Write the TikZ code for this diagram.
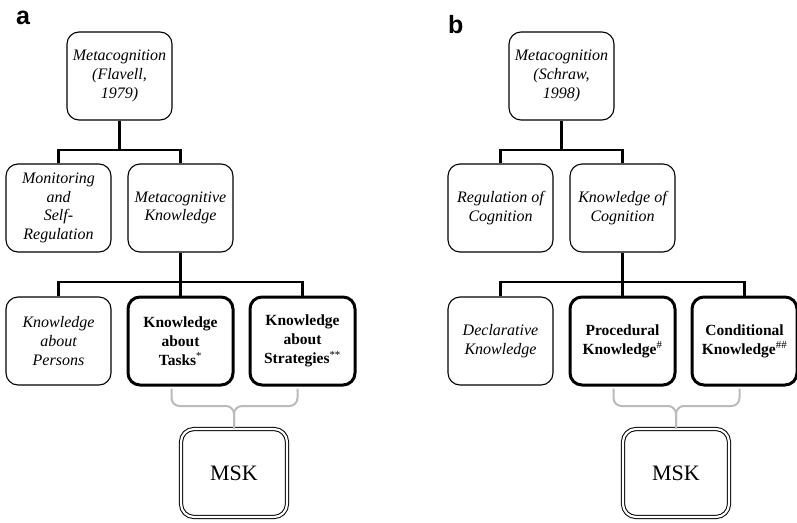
\documentclass[tikz,border=0pt]{standalone}
\usepackage{fontspec}
\setmainfont{Liberation Serif}
\newfontfamily\labelfont{Liberation Sans}
\definecolor{bracegray}{HTML}{BBBBBB}
\begin{document}
\begin{tikzpicture}[x=1pt,y=-1pt,
  box/.style={draw, rounded corners=12pt, line width=1.1pt, minimum width=105pt,
    minimum height=88pt, inner sep=0pt, align=center,
    font=\fontsize{16}{18.8}\selectfont\itshape},
  boldbox/.style={box, line width=3pt, font=\fontsize{15.5}{18.8}\selectfont\bfseries},
  mskbox/.style={draw, double, double distance=2.2pt, line width=1pt, rounded corners=13pt,
    minimum width=106pt, minimum height=88pt, inner sep=0pt,
    font=\fontsize{22}{26}\selectfont},
  conn/.style={line width=2.4pt, black},
  brace/.style={line width=2pt, draw=bracegray, rounded corners=8pt},
  panel/.style={font=\labelfont\bfseries\fontsize{25}{30}\selectfont, anchor=base west, inner sep=0pt}]
\useasboundingbox (0,0) rectangle (797,522);

% ---------- panel a ----------
\node[panel] (la) at (16,24) {a};
\node[box] (atop) at (119.5,76) {Metacognition\\(Flavell,\\1979)};
\node[box] (amon) at (58.5,208) {Monitoring\\and\\Self-\\Regulation};
\node[box] (amk) at (180.5,208) {Metacognitive\\Knowledge};
\node[box] (aper) at (58.5,341) {Knowledge\\about\\Persons};
\node[boldbox] (atask) at (180.5,341) {Knowledge\\about\\Tasks\textsuperscript{\mdseries *}};
\node[boldbox] (astrat) at (302.5,341) {Knowledge\\about\\Strategies\textsuperscript{\mdseries **}};
\node[mskbox] (amsk) at (234,473) {MSK};

\coordinate (aj1) at (119.5,150);
\coordinate (aj2) at (180.5,282);
\draw[conn] (atop.south) -- (aj1);
\draw[conn] (amon.north) |- (aj1) -| (amk.north);
\draw[conn] (amk.south) -- (aj2);
\draw[conn] (aper.north) |- (aj2) -| (astrat.north);
\draw[conn] (aj2) -- (atask.north);

\coordinate (abm) at (234,406);
\draw[brace] ([xshift=-9pt,yshift=-2pt]atask.south) |- (abm) -- (amsk.north);
\draw[brace] ([xshift=-5pt,yshift=-2pt]astrat.south) |- (abm) -- (amsk.north);

% ---------- panel b ----------
\node[panel] (lb) at (448,33) {b};
\node[box] (btop) at (561.5,76) {Metacognition\\(Schraw,\\1998)};
\node[box] (breg) at (500.5,208) {Regulation of\\Cognition};
\node[box] (bkc) at (622.5,208) {Knowledge of\\Cognition};
\node[box] (bdec) at (500.5,341) {Declarative\\Knowledge};
\node[boldbox] (bproc) at (622.5,341) {Procedural\\Knowledge\textsuperscript{\mdseries\#}};
\node[boldbox] (bcond) at (744.5,341) {Conditional\\Knowledge\textsuperscript{\mdseries\#\#}};
\node[mskbox] (bmsk) at (676,473) {MSK};

\coordinate (bj1) at (561.5,150);
\coordinate (bj2) at (622.5,282);
\draw[conn] (btop.south) -- (bj1);
\draw[conn] (breg.north) |- (bj1) -| (bkc.north);
\draw[conn] (bkc.south) -- (bj2);
\draw[conn] (bdec.north) |- (bj2) -| (bcond.north);
\draw[conn] (bj2) -- (bproc.north);

\coordinate (bbm) at (676,406);
\draw[brace] ([xshift=-9pt,yshift=-2pt]bproc.south) |- (bbm) -- (bmsk.north);
\draw[brace] ([xshift=-5pt,yshift=-2pt]bcond.south) |- (bbm) -- (bmsk.north);
\end{tikzpicture}
\end{document}
